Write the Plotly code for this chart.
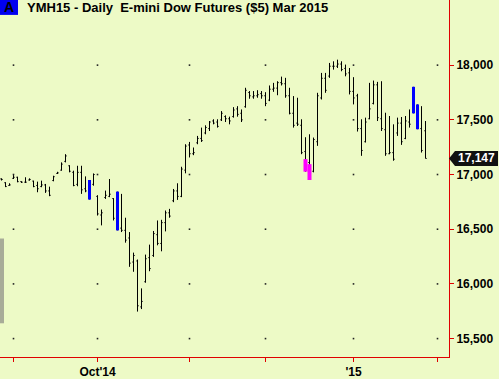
import plotly.graph_objects as go
import pandas as pd

# ---------------- data ----------------
dates = pd.bdate_range("2014-08-27", "2015-01-28", freq="C",
                       holidays=["2014-09-01", "2014-11-27", "2014-12-25", "2015-01-01"])
idx = list(range(len(dates)))

highs = [16965, 16930, 16920, 16995, 16980, 16938, 16975, 16965, 16944, 16935,
         16944, 16914, 16889, 16989, 17025, 17111, 17186, 17085, 17035, 17080,
         17080, 16983, 16950, 17010, 16811, 16680, 16853, 16959, 16784, 16844,
         16823, 16605, 16474, 16286, 16223, 15959, 16268, 16359, 16484, 16580,
         16586, 16671, 16686, 16868, 16920, 17071, 17277, 17298, 17247, 17353,
         17429, 17450, 17489, 17505, 17505, 17580, 17541, 17529, 17616, 17625,
         17595, 17793, 17763, 17763, 17771, 17763, 17753, 17814, 17838, 17853,
         17895, 17884, 17793, 17717, 17702, 17505, 17341, 17368, 17338, 17747,
         17929, 17929, 18020, 18035, 18050, 18035, 18005, 17974, 17890, 17738,
         17505, 17520, 17838, 17859, 17847, 17853, 17565, 17535, 17459, 17520,
         17526, 17535, 17595, 17802, 17641, 17625, 17489]
lows = [16945, 16885, 16898, 16959, 16929, 16923, 16923, 16944, 16884, 16838,
        16884, 16832, 16802, 16938, 17005, 17035, 17111, 17020, 16893, 16893,
        16823, 16838, 16771, 16898, 16625, 16535, 16777, 16793, 16580, 16489,
        16474, 16377, 16156, 16111, 15747, 15770, 16011, 16116, 16247, 16353,
        16298, 16480, 16605, 16747, 16768, 16793, 17011, 17156, 17177, 17277,
        17298, 17368, 17398, 17459, 17429, 17489, 17480, 17459, 17520, 17529,
        17480, 17611, 17693, 17693, 17702, 17693, 17625, 17671, 17756, 17725,
        17814, 17702, 17550, 17429, 17444, 17186, 17026, 16950, 17020, 17262,
        17686, 17747, 17884, 17959, 17974, 17944, 17898, 17732, 17641, 17393,
        17171, 17293, 17505, 17641, 17489, 17398, 17171, 17186, 17126, 17353,
        17271, 17323, 17429, 17559, 17414, 17201, 17147]
opens = [16960, 16925, 16900, 16965, 16975, 16935, 16930, 16950, 16940, 16900,
         16890, 16905, 16850, 16945, 17010, 17040, 17120, 17080, 17020, 16910,
         17020, 16870, 16850, 16910, 16800, 16630, 16790, 16800, 16780, 16600,
         16510, 16490, 16420, 16200, 16210, 15790, 16020, 16240, 16260, 16450,
         16370, 16560, 16650, 16760, 16850, 16800, 17040, 17270, 17190, 17290,
         17330, 17380, 17420, 17490, 17480, 17500, 17530, 17510, 17530, 17600,
         17560, 17620, 17750, 17710, 17720, 17740, 17720, 17680, 17780, 17790,
         17840, 17830, 17720, 17560, 17470, 17450, 17210, 17110, 17030, 17300,
         17700, 17880, 17900, 17990, 17990, 18010, 17970, 17930, 17760, 17720,
         17420, 17300, 17510, 17650, 17820, 17510, 17410, 17190, 17200, 17380,
         17470, 17330, 17480, 17600, 17580, 17420, 17400]
closes = [16955, 16890, 16905, 16975, 16935, 16930, 16930, 16955, 16890, 16870,
          16905, 16850, 16810, 16980, 17015, 17095, 17170, 17030, 16900, 17020,
          16860, 16850, 16790, 17000, 16640, 16650, 16810, 16820, 16600, 16500,
          16490, 16400, 16190, 16260, 15800, 15840, 16230, 16140, 16460, 16370,
          16560, 16650, 16620, 16850, 16800, 17050, 17260, 17190, 17200, 17330,
          17310, 17430, 17480, 17470, 17440, 17560, 17510, 17490, 17590, 17550,
          17500, 17770, 17720, 17720, 17730, 17720, 17650, 17780, 17790, 17840,
          17830, 17720, 17560, 17450, 17460, 17200, 17100, 16980, 17320, 17720,
          17880, 17770, 17990, 17990, 18010, 17960, 17920, 17760, 17700, 17420,
          17220, 17480, 17600, 17820, 17520, 17420, 17190, 17200, 17140, 17470,
          17300, 17490, 17460, 17570, 17430, 17220, 17147]

blue_idx = [22, 29, 103, 104]
magenta_idx = [76, 77]
magenta_top = [17141, 17095]

x_tick_idx = [3, 24, 47, 66, 88, 109]
x_tick_text = ["", "Oct'14", "", "", "'15", ""]
y_ticks = [15500, 16000, 16500, 17000, 17500, 18000]
y_tick_text = ["15,500", "16,000", "16,500", "17,000", "17,500", "18,000"]

title_text = "YMH15 - Daily  E-mini Dow Futures ($5) Mar 2015"
last_price = closes[-1]

# ---------------- figure ----------------
BG = "#EDFAC6"
RED = "#E00000"
FONT = "Liberation Sans"

fig = go.Figure()

# grid dots at tick intersections
gx, gy = [], []
for xv in x_tick_idx:
    for yv in y_ticks:
        gx.append(xv)
        gy.append(yv)
fig.add_trace(go.Scatter(x=gx, y=gy, mode="markers",
                         marker=dict(size=1.6, color="#222222", symbol="square", line=dict(width=0)),
                         hoverinfo="skip", showlegend=False))

fig.add_trace(go.Ohlc(x=idx, open=opens, high=highs, low=lows, close=closes,
                      increasing=dict(line=dict(color="black", width=1)),
                      decreasing=dict(line=dict(color="black", width=1)),
                      tickwidth=0.3, showlegend=False,
                      text=[d.strftime("%Y-%m-%d") for d in dates]))

# highlighted (thick) bars drawn as thick vertical segments above the OHLC layer
bx, by = [], []
for i in blue_idx:
    bx += [i, i, None]
    by += [lows[i], highs[i], None]
fig.add_trace(go.Scatter(x=bx, y=by, mode="lines", line=dict(color="#0000FF", width=3),
                         hoverinfo="skip", showlegend=False))
mx, my = [], []
for t, i in zip(magenta_top, magenta_idx):
    mx += [i, i, None]
    my += [lows[i], t, None]
fig.add_trace(go.Scatter(x=mx, y=my, mode="lines", line=dict(color="#FF00FF", width=4),
                         hoverinfo="skip", showlegend=False))

Y0, Y1 = 15331.8, 18595.5
PLOT_W = 449.0

# last price tag (arrow pointing at axis)
half = 68
px = 1.0 / PLOT_W
fig.add_shape(type="path",
              path=f"M 1.0,{last_price} L {1+6*px},{last_price+half} L {1+49*px},{last_price+half} "
                   f"L {1+49*px},{last_price-half} L {1+6*px},{last_price-half} Z",
              xref="paper", yref="y", fillcolor="#111111", line=dict(width=0), layer="above")
fig.add_annotation(x=1 + 7 * px, y=last_price, xref="paper", yref="y", xanchor="left",
                   text=f"<b>{last_price:,}</b>", showarrow=False,
                   font=dict(family=FONT, size=12, color="white"))

# title with "A" box
fig.add_shape(type="rect", xref="paper", yref="paper", x0=0, x1=18 * px,
              y0=1 - 15 / 359, y1=1, fillcolor="#0000F0", line=dict(width=0), layer="above")
fig.add_annotation(x=9 * px, y=1 - 7.5 / 359, xref="paper", yref="paper",
                   text="<b>A</b>", showarrow=False, xanchor="center", yanchor="middle",
                   font=dict(family=FONT, size=14, color="black"))
fig.add_annotation(x=25 * px, y=1 - 7.5 / 359, xref="paper", yref="paper",
                   text=f"<b>{title_text}</b>", showarrow=False, xanchor="left", yanchor="middle",
                   font=dict(family=FONT, size=13, color="black"))

# gray left edge mark
fig.add_shape(type="rect", xref="paper", yref="y", x0=0, x1=4 * px, y0=15640, y1=16415,
              fillcolor="#A8AC98", line=dict(width=0), layer="above")

fig.update_layout(
    width=499, height=379,
    margin=dict(l=0, r=50, t=0, b=20),
    paper_bgcolor=BG, plot_bgcolor=BG,
    showlegend=False,
    xaxis=dict(range=[-0.375, 111.875], tickmode="array", tickvals=x_tick_idx, ticktext=x_tick_text,
               ticks="outside", ticklen=4, tickcolor=RED, showline=True, linecolor=RED,
               linewidth=1, showgrid=False, zeroline=False, rangeslider=dict(visible=False),
               tickfont=dict(family=FONT, size=12, color="black", weight="bold")),
    yaxis=dict(range=[Y0, Y1], side="right", tickmode="array", tickvals=y_ticks,
               ticktext=y_tick_text, ticks="outside", ticklen=4, tickcolor=RED,
               showline=True, linecolor=RED, linewidth=1, showgrid=False, zeroline=False,
               tickfont=dict(family=FONT, size=12, color="black", weight="bold")),
)

fig.write_html("out.html", config={"displayModeBar": False},
               post_script="document.body.style.margin='0';document.body.style.padding='0';")
